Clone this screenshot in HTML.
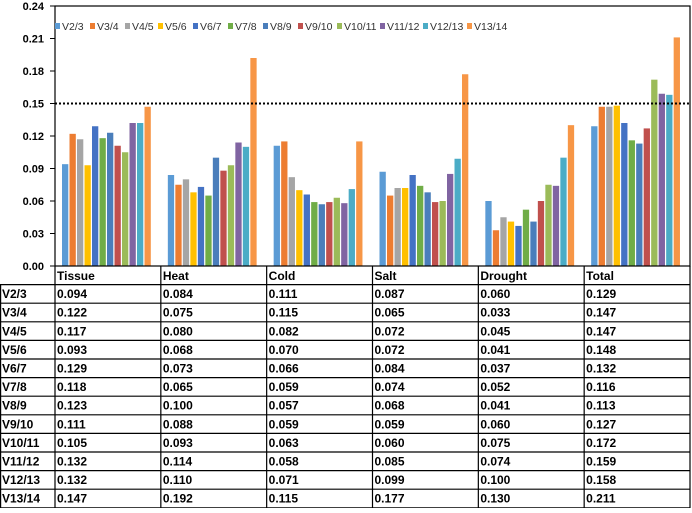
<!DOCTYPE html>
<html><head><meta charset="utf-8"><style>
body{margin:0;background:#fff;width:692px;height:508px;overflow:hidden;font-family:"Liberation Sans",sans-serif}
svg text{font-family:"Liberation Sans",sans-serif}
</style></head><body>
<svg id="c" width="692" height="508"></svg>
<script>
const categories=["Tissue","Heat","Cold","Salt","Drought","Total"];
const seriesNames=["V2/3","V3/4","V4/5","V5/6","V6/7","V7/8","V8/9","V9/10","V10/11","V11/12","V12/13","V13/14"];
const v23=[0.094,0.084,0.111,0.087,0.060,0.129];
const v34=[0.122,0.075,0.115,0.065,0.033,0.147];
const v45=[0.117,0.080,0.082,0.072,0.045,0.147];
const v56=[0.093,0.068,0.070,0.072,0.041,0.148];
const v67=[0.129,0.073,0.066,0.084,0.037,0.132];
const v78=[0.118,0.065,0.059,0.074,0.052,0.116];
const v89=[0.123,0.100,0.057,0.068,0.041,0.113];
const v910=[0.111,0.088,0.059,0.059,0.060,0.127];
const v1011=[0.105,0.093,0.063,0.060,0.075,0.172];
const v1112=[0.132,0.114,0.058,0.085,0.074,0.159];
const v1213=[0.132,0.110,0.071,0.099,0.100,0.158];
const v1314=[0.147,0.192,0.115,0.177,0.130,0.211];
const yTicks=[0,0.03,0.06,0.09,0.12,0.15,0.18,0.21,0.24];
const threshold=0.15;
const series=[v23,v34,v45,v56,v67,v78,v89,v910,v1011,v1112,v1213,v1314];
const colors=["#5B9BD5","#ED7D31","#A5A5A5","#FFC000","#4472C4","#70AD47","#4A7EBB","#C0504D","#9BBB59","#8064A2","#4BACC6","#F79646"];
const svg=document.getElementById('c');const NS="http://www.w3.org/2000/svg";
function mk(t,a,txt){const e=document.createElementNS(NS,t);for(const k in a)e.setAttribute(k,a[k]);if(txt!==undefined)e.textContent=txt;svg.appendChild(e);return e;}
const X0=55,X1=690,Y0=266,Y1=6,GW=(X1-X0)/categories.length;
const y=v=>Y0-(v/0.24)*(Y0-Y1);
const gx=i=>X0+i*GW;
yTicks.forEach(t=>{
 let e=mk('text',{x:44,y:y(t)+4,'text-anchor':'end','font-size':11,'font-weight':'bold',fill:'#000'},t.toFixed(2));
 
 
 let l=mk('line',{x1:50,x2:X0,y1:y(t),y2:y(t),stroke:'#000'});
 
 
});
series.forEach((s,j)=>s.forEach((v,i)=>{
 let r=mk('rect',{x:gx(i)+7+j*7.5,y:y(v),width:6.3,height:Y0-y(v),fill:colors[j]});
 
 
}));
let a=mk('rect',{x:X0,y:Y1,width:X1-X0,height:Y0-Y1,fill:'none',stroke:'#000','stroke-width':1.2});


let th=mk('line',{x1:X0,x2:X1,y1:y(threshold),y2:y(threshold),stroke:'#000','stroke-width':2,'stroke-dasharray':'2,2'});


const lx=[55,90,125,158,193,228,263,298,337,380,423,467];
seriesNames.forEach((n,j)=>{
 let r=mk('rect',{x:lx[j],y:23,width:5,height:6,fill:colors[j]});
 
 
 let t=mk('text',{x:lx[j]+7,y:30,'font-size':10.5,fill:'#333'},n);
 
 
});
// table
const RH=18.6;
categories.forEach((c,i)=>{
 let t=mk('text',{x:gx(i)+2,y:Y0+14,'font-size':12,'font-weight':'bold'},c);
 
 
 let l=mk('line',{x1:gx(i),x2:gx(i),y1:Y0,y2:508,stroke:'#000','stroke-width':1.2});
 
 
});
let rl=mk('line',{x1:X1,x2:X1,y1:Y0,y2:508,stroke:'#000','stroke-width':1.2});


for(let r=0;r<=12;r++){
 const yy=Y0+RH*(r+1);
 let l=mk('line',{x1:r<12?0:0,x2:X1,y1:yy,y2:yy,stroke:'#000','stroke-width':1.2});
 
 
}
let ll=mk('line',{x1:0.6,x2:0.6,y1:Y0+RH,y2:508,stroke:'#000','stroke-width':1.2});


seriesNames.forEach((n,j)=>{
 const yy=Y0+RH*(j+1)+13.5;
 let t=mk('text',{x:2,y:yy,'font-size':12,'font-weight':'bold'},n);
 
 
 series[j].forEach((v,i)=>{
  let c=mk('text',{x:gx(i)+2,y:yy,'font-size':12,'font-weight':'bold'},v.toFixed(3));
  
  
 });
});
</script>
</body></html>
